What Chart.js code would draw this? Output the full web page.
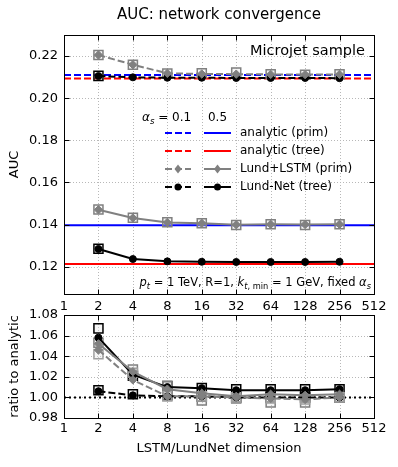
<!DOCTYPE html>
<html>
<head>
<meta charset="utf-8">
<script src="https://cdn.jsdelivr.net/npm/chart.js@4/dist/chart.umd.min.js"></script>
<style>
  html, body { margin: 0; padding: 0; background: #fff; }
  #wrap { position: relative; width: 398px; height: 467px; }
  canvas { position: absolute; left: 0; }
  #aucChart { top: 0; }
  #ratioChart { top: 300px; }
</style>
</head>
<body>
<div id="wrap">
  <canvas id="aucChart" width="398" height="320"></canvas>
  <canvas id="ratioChart" width="398" height="167"></canvas>
</div>
<script>
// ---- data ----
const dims = [2, 4, 8, 16, 32, 64, 128, 256];
const xTicks = [1, 2, 4, 8, 16, 32, 64, 128, 256, 512];
const aucTicks = [0.12, 0.14, 0.16, 0.18, 0.20, 0.22];
const ratioTicks = [0.98, 1.00, 1.02, 1.04, 1.06, 1.08];

// analytic AUC (alpha_s = 0.1 / 0.5)
const analyticPrim01 = 0.2110;
const analyticTree01 = 0.2093;
const analyticPrim05 = 0.1397;
const analyticTree05 = 0.1213;

// network AUC vs dimension
const lstmPrim01 = [0.2205, 0.2159, 0.2118, 0.2115, 0.2114, 0.2113, 0.2112, 0.2113];
const lstmPrim05 = [0.1470, 0.1431, 0.1410, 0.1406, 0.1399, 0.1401, 0.1400, 0.1401];
const netTree01  = [0.2105, 0.2099, 0.2097, 0.2097, 0.2096, 0.2096, 0.2096, 0.2095];
const netTree05  = [0.1284, 0.1236, 0.1225, 0.1223, 0.1222, 0.1222, 0.1222, 0.1223];

// open squares (top panel)
const sqPrim01 = [0.2205, 0.2159, 0.2117, 0.2118, 0.2122, 0.2114, 0.2111, 0.2113];
const sqPrim05 = [0.1471, 0.1432, 0.1411, 0.1406, 0.1398, 0.1401, 0.1398, 0.1401];
const sqTree01 = [0.2106, null, null, null, null, null, null, null];
const sqTree05 = [0.1285, null, null, null, null, null, null, null];

// ratio to analytic
const ratioPrim01 = [1.046, 1.017, 1.001, 1.001, 1.000, 0.999, 0.998, 1.000];
const ratioPrim05 = [1.052, 1.025, 1.008, 1.004, 1.001, 1.003, 1.002, 1.003];
const ratioTree01 = [1.006, 1.002, 1.001, 1.001, 1.000, 1.000, 1.000, 1.000];
const ratioTree05 = [1.058, 1.022, 1.010, 1.009, 1.007, 1.007, 1.007, 1.008];
const ratioSqPrim01 = [1.042, 1.024, 1.001, 1.001, 1.000, 0.999, 0.998, 1.000];
const ratioSqPrim05 = [1.053, 1.027, 1.011, 0.997, 0.999, 0.995, 0.995, 1.000];
const ratioSqTree01 = [1.007, 1.003, 1.002, 1.001, 1.000, 1.000, 1.000, 1.000];
const ratioSqTree05 = [1.067, 1.021, 1.011, 1.009, 1.008, 1.008, 1.008, 1.008];

// ---- helpers ----
const FONT = '"DejaVu Sans", sans-serif';
const GREY = '#808080';
const DASH = [7, 3];

function pts(ys) {
    return dims.map((d, i) => ({ x: d, y: ys[i] }));
}

function hline(v) {
    return [{ x: xTicks[0], y: v }, { x: xTicks[xTicks.length - 1], y: v }];
}

function lineSet(ys, color, dashed, style) {
    return {
        data: pts(ys),
        borderColor: color,
        backgroundColor: color,
        borderWidth: 2,
        borderDash: dashed ? DASH : [],
        pointStyle: style,
        pointRadius: style === 'circle' ? 3.5 : 4.2,
        pointBorderWidth: 1,
        order: 2
    };
}

function squareSet(ys, color) {
    return {
        data: pts(ys),
        showLine: false,
        borderColor: color,
        backgroundColor: 'rgba(225,225,225,0.35)',
        pointStyle: 'rect',
        pointRadius: 6.4,
        pointBorderWidth: 1.5,
        order: 3
    };
}

function analyticSet(v, color, dashed) {
    return {
        data: hline(v),
        borderColor: color,
        borderWidth: 2,
        borderDash: dashed ? DASH : [],
        pointRadius: 0,
        order: 10
    };
}

// grid (dotted), frame and inward ticks like matplotlib
const framePlugin = {
    id: 'frame',
    beforeDatasetsDraw(chart) {
        const { ctx, chartArea: a, scales } = chart;
        ctx.save();
        ctx.strokeStyle = '#b8b8b8';
        ctx.lineWidth = 1;
        ctx.setLineDash([1, 2]);
        ctx.beginPath();
        scales.x.ticks.forEach(t => {
            const px = Math.round(scales.x.getPixelForValue(t.value)) + 0.5;
            ctx.moveTo(px, a.top); ctx.lineTo(px, a.bottom);
        });
        scales.y.ticks.forEach(t => {
            const py = Math.round(scales.y.getPixelForValue(t.value)) + 0.5;
            ctx.moveTo(a.left, py); ctx.lineTo(a.right, py);
        });
        ctx.stroke();
        ctx.restore();
    },
    afterDraw(chart) {
        const { ctx, chartArea: a, scales } = chart;
        const l = Math.round(a.left) + 0.5, r = Math.round(a.right) + 0.5;
        const t = Math.round(a.top) + 0.5, b = Math.round(a.bottom) + 0.5;
        ctx.save();
        ctx.strokeStyle = '#000';
        ctx.lineWidth = 1;
        ctx.strokeRect(l, t, r - l, b - t);
        ctx.beginPath();
        scales.x.ticks.forEach(tk => {
            const px = Math.round(scales.x.getPixelForValue(tk.value)) + 0.5;
            ctx.moveTo(px, b); ctx.lineTo(px, b - 5);
            ctx.moveTo(px, t); ctx.lineTo(px, t + 5);
        });
        scales.y.ticks.forEach(tk => {
            const py = Math.round(scales.y.getPixelForValue(tk.value)) + 0.5;
            ctx.moveTo(l, py); ctx.lineTo(l + 5, py);
            ctx.moveTo(r, py); ctx.lineTo(r - 5, py);
        });
        ctx.stroke();
        ctx.restore();
    }
};

// text made of normal / italic / subscript pieces
function drawRich(ctx, parts, x, y, size, align) {
    const fontOf = k => {
        const it = k.includes('i') ? 'italic ' : '';
        const sz = k.includes('s') ? size * 0.72 : size;
        return it + sz + 'px ' + FONT;
    };
    let w = 0;
    parts.forEach(p => { ctx.font = fontOf(p[1]); w += ctx.measureText(p[0]).width; });
    let cx = align === 'right' ? x - w : x;
    ctx.textAlign = 'left';
    ctx.textBaseline = 'alphabetic';
    parts.forEach(p => {
        ctx.font = fontOf(p[1]);
        const dy = p[1].includes('s') ? size * 0.25 : 0;
        ctx.fillText(p[0], cx, y + dy);
        cx += ctx.measureText(p[0]).width;
    });
}

function legendSample(ctx, x0, x1, y, color, dashed, marker) {
    ctx.save();
    ctx.strokeStyle = color;
    ctx.fillStyle = color;
    ctx.lineWidth = 2;
    ctx.setLineDash(dashed ? DASH : []);
    ctx.beginPath();
    ctx.moveTo(x0, y); ctx.lineTo(x1, y);
    ctx.stroke();
    ctx.setLineDash([]);
    const cx = (x0 + x1) / 2;
    if (marker === 'diamond') {
        ctx.beginPath();
        ctx.moveTo(cx, y - 4.5); ctx.lineTo(cx + 3.5, y); ctx.lineTo(cx, y + 4.5); ctx.lineTo(cx - 3.5, y);
        ctx.closePath(); ctx.fill();
    } else if (marker === 'circle') {
        ctx.beginPath();
        ctx.arc(cx, y, 3.5, 0, Math.PI * 2);
        ctx.fill();
    }
    ctx.restore();
}

// title, legend and notes of the AUC panel
const annotatePlugin = {
    id: 'annotate',
    afterDraw(chart) {
        const { ctx, chartArea: a } = chart;
        ctx.save();
        ctx.fillStyle = '#000';
        ctx.font = '15px ' + FONT;
        ctx.textAlign = 'center';
        ctx.textBaseline = 'middle';
        ctx.fillText('AUC: network convergence', (a.left + a.right) / 2, 15);

        ctx.font = '14.5px ' + FONT;
        ctx.textAlign = 'right';
        ctx.fillText('Microjet sample', a.right - 9, 51);

        // legend
        drawRich(ctx, [['α', 'i'], ['s', 'is'], [' = 0.1', 'n']], 142, 121, 12, 'left');
        ctx.font = '12px ' + FONT;
        ctx.textAlign = 'center';
        ctx.textBaseline = 'alphabetic';
        ctx.fillText('0.5', 217.5, 121);

        const rows = [
            ['analytic (prim)', 'blue', null],
            ['analytic (tree)', 'red', null],
            ['Lund+LSTM (prim)', GREY, 'diamond'],
            ['Lund-Net (tree)', '#000', 'circle']
        ];
        rows.forEach((r, i) => {
            const y = 133 + i * 18;
            legendSample(ctx, 165, 191, y, r[1], true, r[2]);
            legendSample(ctx, 204, 231, y, r[1], false, r[2]);
            ctx.fillStyle = '#000';
            ctx.font = '12px ' + FONT;
            ctx.textAlign = 'left';
            ctx.textBaseline = 'middle';
            ctx.fillText(r[0], 240, y);
        });

        drawRich(ctx, [
            ['p', 'i'], ['t', 'is'], [' = 1 TeV, R=1, ', 'n'],
            ['k', 'i'], ['t', 'is'], [', min', 's'],
            [' = 1 GeV, fixed ', 'n'], ['α', 'i'], ['s', 'is']
        ], a.right - 3, 286, 11.5, 'right');
        ctx.restore();
    }
};

function xScale(showTitle, pad) {
    return {
        type: 'logarithmic',
        min: xTicks[0],
        max: xTicks[xTicks.length - 1],
        afterBuildTicks: s => { s.ticks = xTicks.map(v => ({ value: v })); },
        afterFit: s => { s.height = showTitle ? 49 : 26; },
        grid: { display: false, drawTicks: false },
        border: { display: false },
        ticks: {
            autoSkip: false,
            maxRotation: 0,
            padding: pad,
            color: '#000',
            font: { family: FONT, size: 13 },
            callback: v => String(v)
        },
        title: {
            display: showTitle,
            text: 'LSTM/LundNet dimension',
            color: '#000',
            font: { family: FONT, size: 13 },
            padding: { top: 0, bottom: 11 }
        }
    };
}

function yScale(min, max, ticks, label) {
    return {
        min: min,
        max: max,
        afterBuildTicks: s => { s.ticks = ticks.map(v => ({ value: v })); },
        afterFit: s => { s.width = 64; },
        grid: { display: false, drawTicks: false },
        border: { display: false },
        ticks: {
            padding: 6,
            color: '#000',
            font: { family: FONT, size: 13 },
            callback: v => v.toFixed(2)
        },
        title: {
            display: true,
            text: label,
            color: '#000',
            font: { family: FONT, size: 13 },
            padding: { top: 7, bottom: 0 }
        }
    };
}

const commonOpts = {
    responsive: false,
    animation: false,
    plugins: { legend: { display: false }, tooltip: { enabled: false } }
};

new Chart(document.getElementById('aucChart'), {
    type: 'line',
    data: {
        datasets: [
            analyticSet(analyticPrim01, 'blue', true),
            analyticSet(analyticTree01, 'red', true),
            analyticSet(analyticPrim05, 'blue', false),
            analyticSet(analyticTree05, 'red', false),
            squareSet(sqPrim01, GREY),
            squareSet(sqPrim05, GREY),
            squareSet(sqTree01, '#000'),
            squareSet(sqTree05, '#000'),
            lineSet(lstmPrim01, GREY, true, 'rectRot'),
            lineSet(lstmPrim05, GREY, false, 'rectRot'),
            lineSet(netTree01, '#000', true, 'circle'),
            lineSet(netTree05, '#000', false, 'circle')
        ]
    },
    options: {
        ...commonOpts,
        layout: { padding: { left: 0, right: 24, top: 35, bottom: 0 } },
        scales: {
            x: xScale(false, 5),
            y: yScale(0.107, 0.230, aucTicks, 'AUC')
        }
    },
    plugins: [framePlugin, annotatePlugin]
});

new Chart(document.getElementById('ratioChart'), {
    type: 'line',
    data: {
        datasets: [
            {
                data: hline(1.0),
                borderColor: '#000',
                borderWidth: 2,
                borderDash: [2, 3],
                pointRadius: 0,
                order: 10
            },
            squareSet(ratioSqPrim01, '#a0a0a0'),
            squareSet(ratioSqPrim05, GREY),
            squareSet(ratioSqTree01, '#000'),
            squareSet(ratioSqTree05, '#000'),
            lineSet(ratioPrim01, GREY, true, 'rectRot'),
            lineSet(ratioPrim05, GREY, false, 'rectRot'),
            lineSet(ratioTree01, '#000', true, 'circle'),
            lineSet(ratioTree05, '#000', false, 'circle')
        ]
    },
    options: {
        ...commonOpts,
        layout: { padding: { left: 0, right: 24, top: 15, bottom: 0 } },
        scales: {
            x: xScale(true, 3),
            y: yScale(0.98, 1.08, ratioTicks, 'ratio to analytic')
        }
    },
    plugins: [framePlugin]
});
</script>
</body>
</html>
